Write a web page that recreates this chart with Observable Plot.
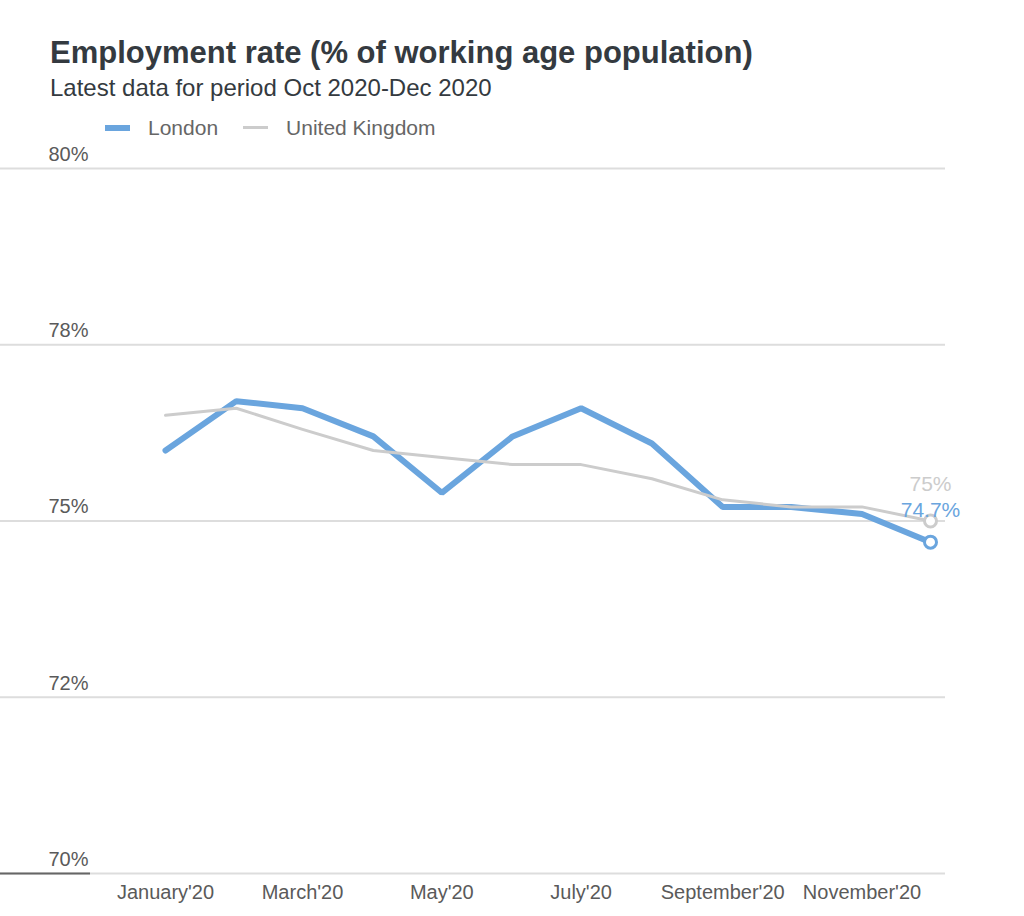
<!DOCTYPE html>
<html>
<head>
<meta charset="utf-8">
<script src="https://cdn.jsdelivr.net/npm/d3@7"></script>
<script src="https://cdn.jsdelivr.net/npm/@observablehq/plot@0.6"></script>
<style>
  body { margin: 0; background: #fff; font-family: "Liberation Sans", Arial, sans-serif; }
  #wrap { position: relative; width: 1024px; height: 916px; }
  #title { position: absolute; left: 50px; top: 37px; font-size: 31px; font-weight: bold; color: #343a40; line-height: 1; white-space: nowrap; }
  #subtitle { position: absolute; left: 50px; top: 76px; font-size: 24px; color: #343a40; line-height: 1; white-space: nowrap; }
  #legend { position: absolute; left: 105px; top: 117px; font-size: 21px; color: #666; line-height: 1; display: flex; align-items: center; white-space: nowrap; }
  .sw { display: inline-block; width: 25px; margin-right: 18px; }
  #chart { position: absolute; left: 0; top: 140px; }
</style>
</head>
<body>
<div id="wrap">
  <div id="title">Employment rate (% of working age population)</div>
  <div id="subtitle">Latest data for period Oct 2020-Dec 2020</div>
  <div id="legend"></div>
  <div id="chart"></div>
</div>
<script>
const months = ["2020-01","2020-02","2020-03","2020-04","2020-05","2020-06","2020-07","2020-08","2020-09","2020-10","2020-11","2020-12"];
const london = [76.0, 76.7, 76.6, 76.2, 75.4, 76.2, 76.6, 76.1, 75.2, 75.2, 75.1, 74.7];
const uk = [76.5, 76.6, 76.3, 76.0, 75.9, 75.8, 75.8, 75.6, 75.3, 75.2, 75.2, 75.0];
const seriesNames = ["London", "United Kingdom"];
const seriesColors = ["#6aa5de", "#cccccc"];
const yTicks = [70, 72.5, 75, 77.5, 80];
const yTickLabels = ["70%", "72%", "75%", "78%", "80%"];
const xTicks = ["2020-01","2020-03","2020-05","2020-07","2020-09","2020-11"];
const xTickLabels = ["January'20","March'20","May'20","July'20","September'20","November'20"];
const endLabels = ["74.7%", "75%"];

const parse = d3.utcParse("%Y-%m");
const dates = months.map(parse);
const londonData = dates.map((d, i) => ({date: d, value: london[i]}));
const ukData = dates.map((d, i) => ({date: d, value: uk[i]}));
const yTickData = yTicks.map((v, i) => ({v, label: yTickLabels[i]}));
const xTickDates = xTicks.map(parse);
const xLabelMap = new Map(xTickDates.map((d, i) => [+d, xTickLabels[i]]));

// legend
const leg = document.getElementById("legend");
seriesNames.forEach((name, i) => {
  const item = document.createElement("span");
  item.style.display = "inline-flex";
  item.style.alignItems = "center";
  item.style.marginRight = "25px";
  const sw = document.createElement("span");
  sw.className = "sw";
  sw.style.height = i === 0 ? "6px" : "3px";
  sw.style.background = seriesColors[i];
  item.appendChild(sw);
  item.appendChild(document.createTextNode(name));
  leg.appendChild(item);
});

const lastL = londonData[londonData.length - 1];
const lastU = ukData[ukData.length - 1];

const chart = Plot.plot({
  width: 1024,
  height: 775,
  marginLeft: 90,
  marginRight: 79,
  marginTop: 28,
  marginBottom: 42,
  style: {fontFamily: "Liberation Sans, Arial, sans-serif", background: "transparent"},
  x: {type: "utc", domain: [dates[0], dates[dates.length - 1]], range: [165, 930]},
  y: {domain: [70, 80]},
  marks: [
    Plot.gridY(yTicks, {stroke: "#dddddd", strokeOpacity: 1, strokeWidth: 2}),
    Plot.axisY(yTicks, {tickSize: 90, stroke: "#dddddd", strokeWidth: 2, tickFormat: () => ""}),
    Plot.axisY([70], {tickSize: 90, stroke: "#666666", strokeWidth: 2, tickFormat: () => ""}),
    Plot.text(yTickData, {y: "v", text: "label", frameAnchor: "left", textAnchor: "end", dx: -2, dy: -14, fontSize: 20, fill: "#5a5a5a"}),
    Plot.axisX(xTickDates, {tickSize: 0, tickPadding: 11, fontSize: 20, fill: "#5a5a5a", tickFormat: d => xLabelMap.get(+d)}),
    Plot.line(londonData, {x: "date", y: "value", stroke: seriesColors[0], strokeWidth: 6, strokeLinejoin: "miter", strokeLinecap: "round"}),
    Plot.line(ukData, {x: "date", y: "value", stroke: seriesColors[1], strokeWidth: 3}),
    Plot.dot([lastL], {x: "date", y: "value", r: 6, fill: "white", stroke: seriesColors[0], strokeWidth: 3}),
    Plot.dot([lastU], {x: "date", y: "value", r: 6, fill: "white", stroke: seriesColors[1], strokeWidth: 3}),
    Plot.text([lastU], {x: "date", y: "value", text: () => endLabels[1], dy: -37, fontSize: 21, fill: seriesColors[1]}),
    Plot.text([lastL], {x: "date", y: "value", text: () => endLabels[0], dy: -32, fontSize: 21, fill: seriesColors[0]})
  ]
});
document.getElementById("chart").appendChild(chart);
</script>
</body>
</html>
